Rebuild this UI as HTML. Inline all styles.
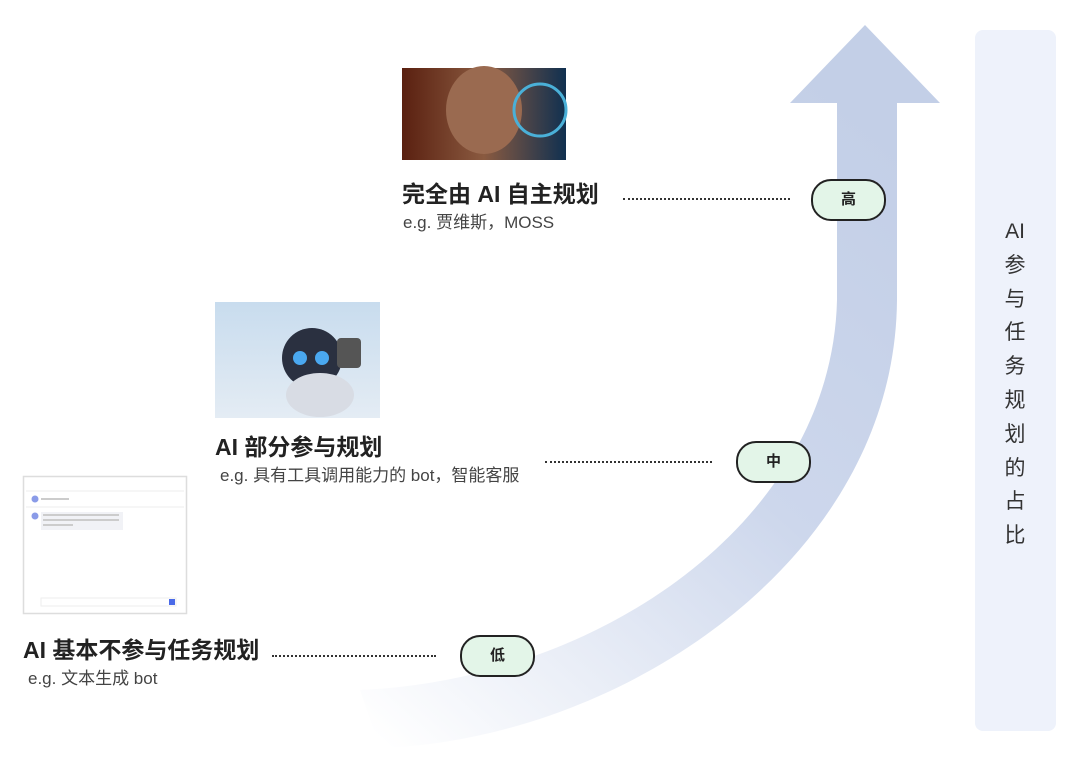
<!DOCTYPE html>
<html><head><meta charset="utf-8"><style>
body{margin:0;width:1080px;height:775px;background:#fff;position:relative;overflow:hidden;font-family:"Liberation Sans","Noto Sans CJK SC",sans-serif;}
.t{position:absolute;font-weight:bold;font-size:23px;color:#222;white-space:nowrap;}
.s{position:absolute;font-size:17px;color:#444;white-space:nowrap;}
.dot{position:absolute;height:0;border-top:2px dotted #333;}
.pill{position:absolute;width:71px;height:38px;border:2px solid #222;border-radius:20px;background:#e3f5e8;text-align:center;line-height:38px;font-weight:bold;font-size:15px;color:#222;}
</style></head><body>
<svg width="1080" height="775" style="position:absolute;left:0;top:0">
<defs>
<linearGradient id="g" x1="900" y1="150" x2="380" y2="740" gradientUnits="userSpaceOnUse">
<stop offset="0" stop-color="#c3cfe7"/><stop offset="0.45" stop-color="#cdd7ec"/><stop offset="1" stop-color="#ffffff"/>
</linearGradient>
<linearGradient id="im1" x1="0" x2="1"><stop offset="0" stop-color="#5a2010"/><stop offset="0.5" stop-color="#8a5a40"/><stop offset="1" stop-color="#103050"/></linearGradient>
<linearGradient id="im2" x1="0" x2="0" y1="0" y2="1"><stop offset="0" stop-color="#c8dcee"/><stop offset="1" stop-color="#e4ecf4"/></linearGradient>
</defs>
<path d="M790 103 L865 25 L940 103 L897 103 L897 300 C895 560 620 740 380 748 L360 690 C600 680 832 520 837 300 L837 103 Z" fill="url(#g)"/>
<rect x="975" y="30" width="81" height="701" rx="8" fill="#eef2fb"/>
<rect x="402" y="68" width="164" height="92" fill="url(#im1)"/>
<ellipse cx="484" cy="110" rx="38" ry="44" fill="#9a6a50"/>
<circle cx="540" cy="110" r="26" fill="none" stroke="#4ab0d8" stroke-width="3"/>
<rect x="215" y="302" width="165" height="116" fill="url(#im2)"/>
<circle cx="312" cy="358" r="30" fill="#2a3040"/>
<ellipse cx="320" cy="395" rx="34" ry="22" fill="#d8dce4"/>
<circle cx="300" cy="358" r="7" fill="#4aa8f0"/><circle cx="322" cy="358" r="7" fill="#4aa8f0"/>
<rect x="337" y="338" width="24" height="30" rx="4" fill="#555"/>
<rect x="23.5" y="476.5" width="163" height="137" fill="#fff" stroke="#ddd" stroke-width="1.5"/>
<line x1="26" y1="491" x2="184" y2="491" stroke="#eee"/>
<line x1="26" y1="507" x2="184" y2="507" stroke="#eee"/>
<circle cx="35" cy="499" r="3.5" fill="#8a9be8"/><rect x="41" y="498" width="28" height="2" fill="#ccc"/>
<circle cx="35" cy="516" r="3.5" fill="#8a9be8"/><rect x="41" y="512" width="82" height="18" fill="#f1f2f6"/>
<rect x="43" y="514" width="76" height="2" fill="#ccc"/><rect x="43" y="519" width="76" height="2" fill="#ccc"/><rect x="43" y="524" width="30" height="2" fill="#ccc"/>
<rect x="41" y="598" width="135" height="8" fill="#fff" stroke="#eee"/><rect x="169" y="599" width="6" height="6" fill="#4a6ae8"/>
</svg>
<div class="t" style="left:402px;top:175px">完全由 AI 自主规划</div>
<div class="s" style="left:403px;top:208px">e.g. 贾维斯，MOSS</div>
<div class="t" style="left:215px;top:428px">AI 部分参与规划</div>
<div class="s" style="left:220px;top:461px">e.g. 具有工具调用能力的 bot，智能客服</div>
<div class="t" style="left:23px;top:631px">AI 基本不参与任务规划</div>
<div class="s" style="left:28px;top:664px">e.g. 文本生成 bot</div>
<div class="dot" style="left:623px;top:198px;width:167px"></div>
<div class="dot" style="left:545px;top:461px;width:167px"></div>
<div class="dot" style="left:272px;top:655px;width:164px"></div>
<div class="pill" style="left:811px;top:179px">高</div>
<div class="pill" style="left:736px;top:441px">中</div>
<div class="pill" style="left:460px;top:635px">低</div>
<div style="position:absolute;left:995px;top:215px;width:40px;text-align:center;font-size:21px;line-height:33.8px;color:#333">AI<br>参<br>与<br>任<br>务<br>规<br>划<br>的<br>占<br>比</div>
</body></html>
